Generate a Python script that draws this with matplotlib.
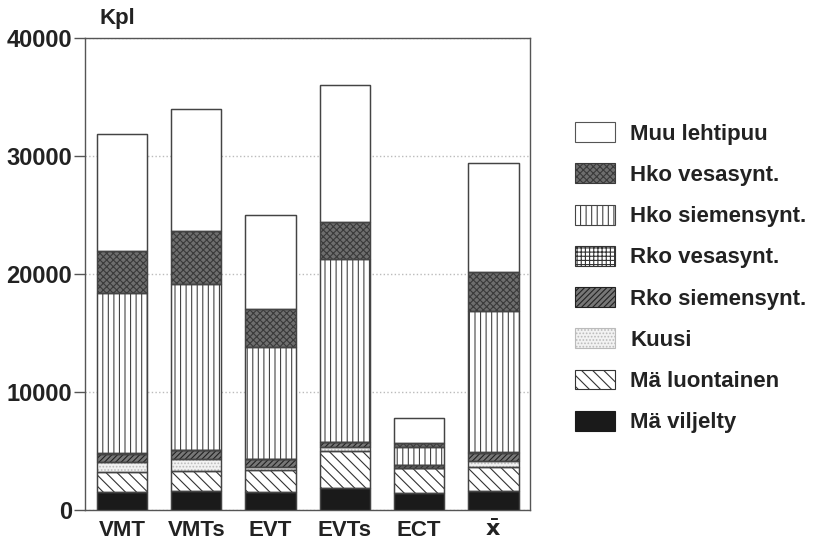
import numpy as np
import matplotlib.pyplot as plt

plt.rcParams['font.family'] = ['Liberation Sans', 'DejaVu Sans']
plt.rcParams['font.weight'] = 'bold'
plt.rcParams['hatch.linewidth'] = 0.8

categories = ['VMT', 'VMTs', 'EVT', 'EVTs', 'ECT', r'$\bar{\mathbf{x}}$']

ma_viljelty = [1550, 1635, 1525, 1840, 1415, 1600]
ma_luontainen = [1700, 1695, 1865, 3160, 2115, 2020]
kuusi = [840, 990, 230, 360, 30, 530]
rko_siemen = [660, 740, 680, 380, 250, 710]
rko_vesa = [40, 40, 30, 30, 30, 40]
hko_siemen = [13625, 14050, 9510, 15480, 1520, 11960]
hko_vesa = [3535, 4490, 3190, 3160, 290, 3340]
muu_lehtipuu = [9970, 10370, 7940, 11610, 2120, 9180]

series = [
    ('Mä viljelty', ma_viljelty, '#1a1a1a', None, '#1a1a1a'),
    ('Mä luontainen', ma_luontainen, 'white', '\\\\\\', '#333333'),
    ('Kuusi', kuusi, '#f2f2f2', '.....', '#bbbbbb'),
    ('Rko siemensynt.', rko_siemen, '#777777', '//////', '#222222'),
    ('Rko vesasynt.', rko_vesa, 'white', '++++', '#333333'),
    ('Hko siemensynt.', hko_siemen, 'white', '|||', '#444444'),
    ('Hko vesasynt.', hko_vesa, '#6e6e6e', 'xxxxx', '#3a3a3a'),
    ('Muu lehtipuu', muu_lehtipuu, 'white', None, '#555555'),
]

fig = plt.figure(figsize=(8.16, 5.46), dpi=100)
ax = fig.add_axes([0.104, 0.066, 0.546, 0.864])

x = np.arange(len(categories))
bottom = np.zeros(len(categories))
handles = []
for name, vals, fc, hatch, hc in series:
    b = ax.bar(x, vals, 0.68, bottom=bottom, color=fc, hatch=hatch,
               edgecolor=hc, linewidth=0.8, zorder=3, label=name)
    # outline of each segment
    ax.bar(x, vals, 0.68, bottom=bottom, fill=False, edgecolor='#444444',
           linewidth=1.0, zorder=4)
    bottom += np.array(vals)
    handles.append(b)

ax.set_xlim(-0.5, 5.5)
ax.set_ylim(0, 40000)
ax.set_yticks([0, 10000, 20000, 30000, 40000])
ax.set_yticklabels(['0', '10000', '20000', '30000', '40000'], fontsize=17,
                   fontweight='bold', color='#222222')
ax.set_xticks(x)
ax.set_xticklabels(categories, fontsize=16, fontweight='bold', color='#222222')
ax.tick_params(axis='x', length=0, pad=7)
ax.tick_params(axis='y', direction='out', length=8, width=1, color='#555555', pad=1)
ax.yaxis.grid(True, linestyle=':', color='#bbbbbb', linewidth=1, zorder=0)
ax.set_axisbelow(True)
for s in ax.spines.values():
    s.set_color('#555555')
    s.set_linewidth(1)

fig.text(0.122, 0.967, 'Kpl', fontsize=16, fontweight='bold', color='#222222',
         ha='left', va='center')

leg = ax.legend(handles=handles[::-1], loc='upper left', bbox_to_anchor=(1.1, 0.822),
                frameon=False, fontsize=16, handlelength=1.8, handleheight=1.0,
                labelspacing=0.84, handletextpad=0.68, borderpad=0, borderaxespad=0)
for t in leg.get_texts():
    t.set_color('#222222')

fig.savefig('out.png', dpi=100)
